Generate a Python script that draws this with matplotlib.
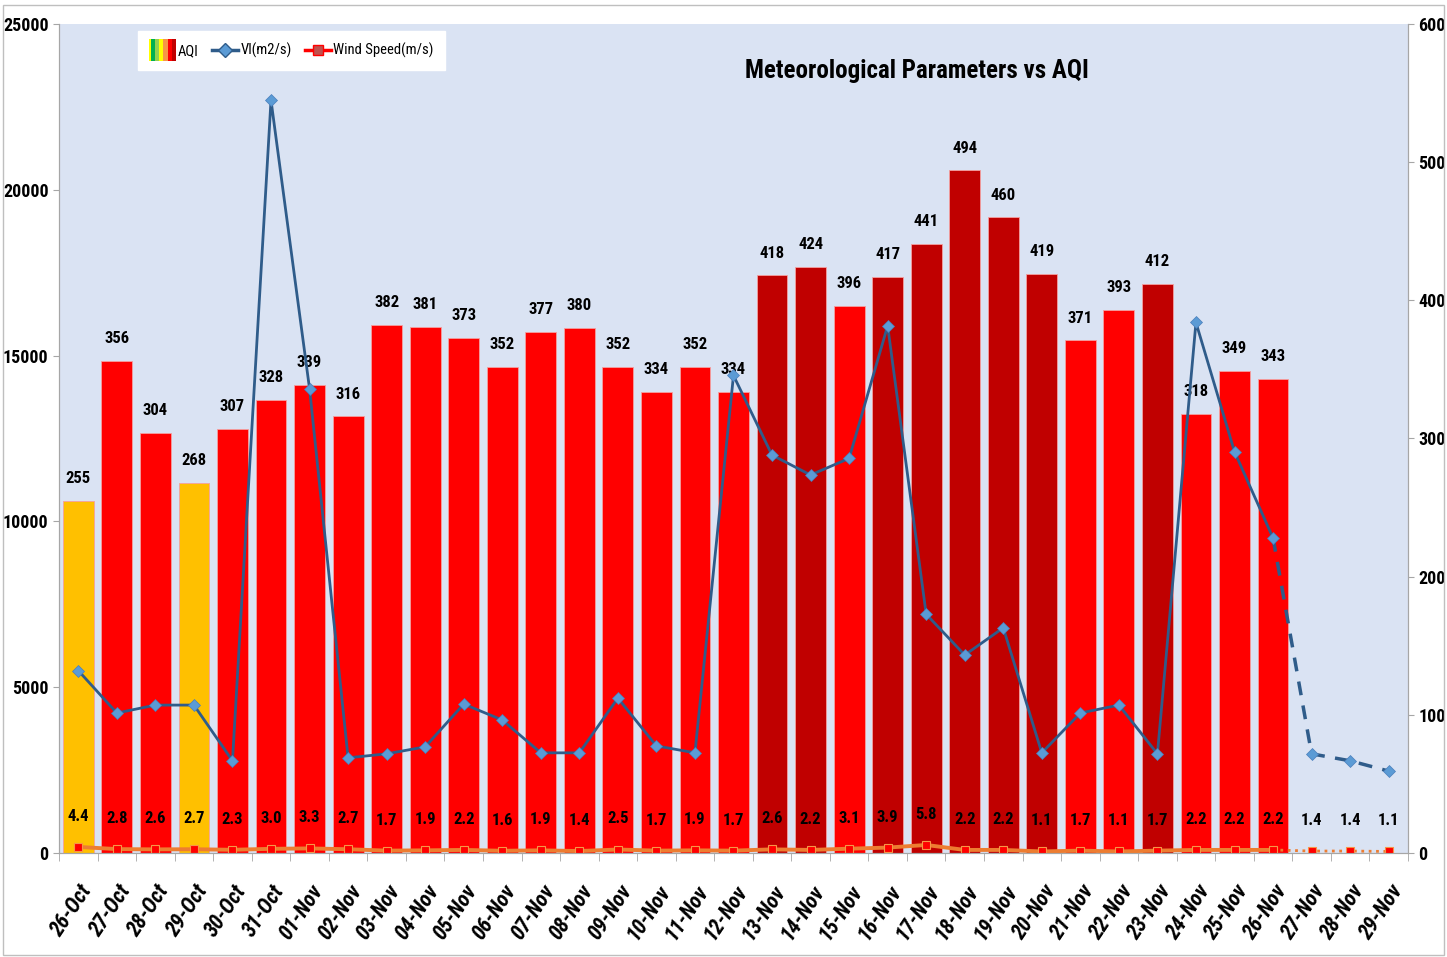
import numpy as np
import matplotlib
matplotlib.use("Agg")
import matplotlib.pyplot as plt
from matplotlib import font_manager
from matplotlib.lines import Line2D
from matplotlib.patches import Rectangle
from matplotlib.legend_handler import HandlerBase

have = {f.name for f in font_manager.fontManager.ttflist}
narrow = [n for n in ["Liberation Sans Narrow", "DejaVu Sans Condensed",
                      "Roboto Condensed", "Open Sans Condensed", "Noto Sans Condensed"]
          if n in have]
plt.rcParams["font.family"] = narrow + ["DejaVu Sans"]
NARROW = bool(narrow)

dates = ["26-Oct", "27-Oct", "28-Oct", "29-Oct", "30-Oct", "31-Oct",
         "01-Nov", "02-Nov", "03-Nov", "04-Nov", "05-Nov", "06-Nov", "07-Nov",
         "08-Nov", "09-Nov", "10-Nov", "11-Nov", "12-Nov", "13-Nov", "14-Nov",
         "15-Nov", "16-Nov", "17-Nov", "18-Nov", "19-Nov", "20-Nov", "21-Nov",
         "22-Nov", "23-Nov", "24-Nov", "25-Nov", "26-Nov", "27-Nov", "28-Nov",
         "29-Nov"]
aqi = [255, 356, 304, 268, 307, 328, 339, 316, 382, 381, 373, 352, 377, 380,
       352, 334, 352, 334, 418, 424, 396, 417, 441, 494, 460, 419, 371, 393,
       412, 318, 349, 343]
vi = [5500, 4220, 4460, 4460, 2780, 22700, 14000, 2870, 2990, 3200, 4490,
      4010, 3020, 3020, 4670, 3230, 3020, 14400, 12000, 11400, 11900, 15900,
      7200, 5970, 6790, 3020, 4220, 4460, 2990, 16000, 12100, 9500, 2990,
      2780, 2470]
wind = [4.4, 2.8, 2.6, 2.7, 2.3, 3.0, 3.3, 2.7, 1.7, 1.9, 2.2, 1.6, 1.9, 1.4,
        2.5, 1.7, 1.9, 1.7, 2.6, 2.2, 3.1, 3.9, 5.8, 2.2, 2.2, 1.1, 1.7, 1.1,
        1.7, 2.2, 2.2, 2.2, 1.4, 1.4, 1.1]


def aqi_color(v):
    if v <= 300:
        return "#FFC000"
    if v <= 400:
        return "#FF0000"
    return "#C00000"


class AqiHandler(HandlerBase):
    def create_artists(self, legend, orig, xd, yd, w, h, fs, trans):
        cols = ["#FFFF00", "#00B050", "#92D050", "#FFFF00", "#F79646", "#FF0000", "#C00000"]
        widths = [0.05, 0.16, 0.16, 0.16, 0.16, 0.16, 0.15]
        out, x = [], xd
        for c, fw in zip(cols, widths):
            out.append(Rectangle((x, yd - h * 0.6), w * fw, h * 2.2,
                                 facecolor=c, edgecolor="none", transform=trans))
            x += w * fw
        return out


x = np.arange(len(dates))
n_aqi = len(aqi)
n_solid = 32  # last measured day (26-Nov)
fs_lab = 12 if NARROW else 10.5

fig = plt.figure(figsize=(14.47, 9.57), dpi=100)
ax = fig.add_axes([0.0408, 0.1087, 0.9322, 0.8662])
ax.set_facecolor("#DAE3F3")

ax.bar(x[:n_aqi], aqi, width=0.8, color=[aqi_color(v) for v in aqi],
       edgecolor="#F4A0A0", linewidth=0.6, zorder=2)
for xi, v in zip(x[:n_aqi], aqi):
    ax.annotate(str(v), (xi, v), xytext=(0, 16), textcoords="offset points",
                ha="center", va="center", fontsize=fs_lab, fontweight="bold")

ax.plot(x[:n_solid], wind[:n_solid], color="#ED7D31", lw=2.8, zorder=3)
ax.plot(x[n_solid - 1:], wind[n_solid - 1:], color="#ED7D31", lw=2, ls=":", zorder=3)
ax.plot(x, wind, ls="none", marker="s", ms=6, color="#FF0000",
        mec="#F79646", mew=0.8, zorder=4)
for xi, v in zip(x, wind):
    ax.annotate(f"{v:.1f}", (xi, v), xytext=(0, 22), textcoords="offset points",
                ha="center", va="center", fontsize=fs_lab, fontweight="bold")

ax.set_ylim(0, 600)
ax.set_xlim(-0.5, len(dates) - 0.5)

ax2 = ax.twinx()
ax2.plot(x[:n_solid], vi[:n_solid], color="#2F5C8A", lw=2, zorder=3)
ax2.plot(x[n_solid - 1:], vi[n_solid - 1:], color="#2F5C8A", lw=2.5, ls=(0, (4, 3)), zorder=3)
ax2.plot(x, vi, ls="none", marker="D", ms=6, color="#5B9BD5", mec="#4A7EBB", mew=0.5, zorder=4)
ax2.set_ylim(0, 25000)
ax2.set_yticks(np.arange(0, 25001, 5000))
ax2.yaxis.tick_left()
ax.yaxis.tick_right()
ax.set_yticks(np.arange(0, 601, 100))

for a in (ax, ax2):
    a.spines["top"].set_visible(False)
    for s in ("left", "right", "bottom"):
        a.spines[s].set_color("#A6A6A6")
    a.tick_params(axis="y", labelsize=fs_lab + 1, color="#A6A6A6", length=4)
for lab in ax.get_yticklabels() + ax2.get_yticklabels():
    lab.set_fontweight("bold")

ax.set_xticks(x)
ax.set_xticklabels(dates, rotation=56, ha="right", rotation_mode="anchor",
                   fontsize=fs_lab + 3.5, fontweight="bold", fontstyle="italic")
ax.set_xticks(np.arange(-0.5, len(dates), 1), minor=True)
ax.tick_params(axis="x", which="major", length=0, pad=20)
ax.tick_params(axis="x", which="minor", length=6, color="#A6A6A6")

fig.text(0.634, 0.926, "Meteorological Parameters vs AQI", ha="center",
         va="center", fontsize=18 if NARROW else 14, fontweight="bold")

handles = [Rectangle((0, 0), 1, 1),
           Line2D([], [], color="#2F5C8A", lw=2.5, marker="D", ms=7,
                  mfc="#5B9BD5", mec="#2F5C8A"),
           Line2D([], [], color="#FF0000", lw=2.5, marker="s", ms=7,
                  mfc="#C0504D", mec="#FF0000")]
leg = ax2.legend(handles, ["AQI", "VI(m2/s)", "Wind Speed(m/s)"],
                 handler_map={Rectangle: AqiHandler()}, ncol=3,
                 loc="upper left", bbox_to_anchor=(0.053, 1.0),
                 frameon=True, fancybox=False, framealpha=1,
                 edgecolor="white", fontsize=fs_lab - 1.5, handlelength=1.8,
                 handletextpad=0.15, columnspacing=0.9, borderpad=0.8)

fig.patches.append(Rectangle((0.002, 0.002), 0.996, 0.993, transform=fig.transFigure,
                             fill=False, edgecolor="#BFBFBF", lw=1))

fig.savefig("out.png", dpi=100)
